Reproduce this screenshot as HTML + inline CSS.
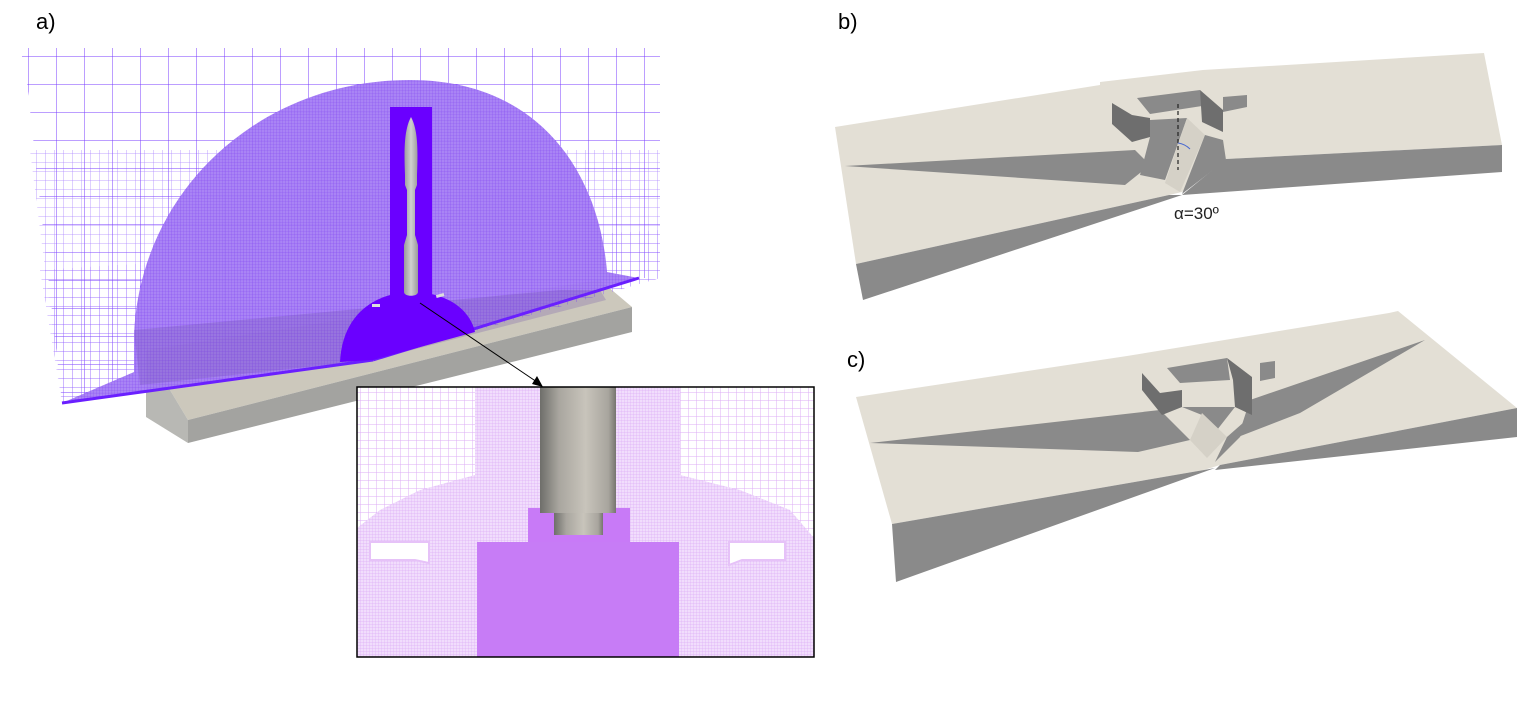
<!DOCTYPE html>
<html><head><meta charset="utf-8"><style>
html,body{margin:0;padding:0;background:#fff;}
svg{display:block;}
text{font-family:"Liberation Sans",sans-serif;}
</style></head><body>
<svg width="1540" height="704" viewBox="0 0 1540 704" xmlns="http://www.w3.org/2000/svg">
<defs>
<pattern id="coarse" width="28" height="28" patternUnits="userSpaceOnUse"><path d="M0 0H28M0 0V28" stroke="#7a3cff" stroke-width="1" fill="none"/></pattern>
<pattern id="mid" width="9" height="9" patternUnits="userSpaceOnUse"><path d="M0 0H9M0 0V9" stroke="#8a55ff" stroke-width="0.8" fill="none"/></pattern>
<pattern id="fine" width="3" height="3" patternUnits="userSpaceOnUse"><rect width="3" height="3" fill="#a47ef4"/><path d="M0 0H3M0 0V3" stroke="#8448f2" stroke-width="0.6" fill="none"/></pattern>
<pattern id="icoarse" width="8" height="8" patternUnits="userSpaceOnUse"><rect width="8" height="8" fill="#fff"/><path d="M0 0H8M0 0V8" stroke="#dcaef5" stroke-width="1" fill="none"/></pattern>
<pattern id="ifine" width="3" height="3" patternUnits="userSpaceOnUse"><rect width="3" height="3" fill="#f1ddfc"/><path d="M0 0H3M0 0V3" stroke="#ddb0f6" stroke-width="0.7" fill="none"/></pattern>
<linearGradient id="stem" x1="0" x2="1"><stop offset="0" stop-color="#6e6e6a"/><stop offset="0.25" stop-color="#a9a69f"/><stop offset="0.6" stop-color="#c8c4bb"/><stop offset="0.9" stop-color="#a8a59e"/><stop offset="1" stop-color="#77756f"/></linearGradient>
<linearGradient id="rk" x1="0" x2="1"><stop offset="0" stop-color="#9a9a9a"/><stop offset="0.5" stop-color="#d0d0d0"/><stop offset="1" stop-color="#9a9a9a"/></linearGradient>
</defs>

<text x="36" y="29" font-size="22">a)</text>
<text x="838" y="29" font-size="22">b)</text>
<text x="847" y="367" font-size="22">c)</text>

<!-- ===== Panel a ===== -->
<polygon points="146,350 600,280 632,307 188,420" fill="#ccc8bc"/>
<polygon points="188,420 632,307 632,332 188,443" fill="#a3a3a0"/>
<polygon points="146,350 188,420 188,443 146,417" fill="#b8b8b4"/>
<polygon points="20,48 660,48 660,278 639,278 373,360 62,403 26,73" fill="url(#coarse)"/>
<polygon points="30,150 660,150 660,278 373,360 62,403" fill="url(#mid)" opacity="0.7"/>
<polygon points="40,270 660,230 660,278 373,360 62,403" fill="url(#mid)" opacity="0.8"/>
<path d="M134,335 C140,190 260,80 410,80 C545,80 600,180 607,272 L639,278 L373,360 L62,403 L134,372 Z" fill="url(#fine)" opacity="0.95"/>
<polygon points="134,330 560,290 600,290 606,300 373,360 140,385" fill="#6a4aa8" opacity="0.25"/>
<line x1="62" y1="403" x2="373" y2="360" stroke="#6a1fff" stroke-width="3"/>
<line x1="373" y1="360" x2="639" y2="278" stroke="#6a1fff" stroke-width="3"/>
<rect x="390" y="107" width="42" height="190" fill="#6a00ff"/>
<path d="M340,362 C342,320 368,294 410,292 C448,292 470,310 475,332 L373,360 Z" fill="#6a00ff"/>
<rect x="372" y="304" width="8" height="3" fill="#ddd"/>
<rect x="436" y="294" width="8" height="3" fill="#ddd" transform="rotate(-15 440 295)"/>
<path d="M411,117 C404,130 404,150 405,175 L405,185 L407,190 L407,235 L404,245 L404,292 C404,297 418,297 418,292 L418,245 L415,235 L415,190 L417,185 L417,175 C418,150 418,130 411,117 Z" fill="url(#rk)"/>
<line x1="420" y1="303" x2="537" y2="382" stroke="#000" stroke-width="1"/>
<polygon points="543,387 532,384 537,376" fill="#000"/>

<rect x="357" y="387" width="457" height="270" fill="url(#icoarse)"/>
<polygon points="357,528 380,510 420,490 475,475 475,387 680,387 680,475 740,490 790,510 814,538 814,657 357,657" fill="url(#ifine)"/>
<rect x="475" y="387" width="205" height="100" fill="url(#ifine)"/>
<rect x="528" y="508" width="102" height="36" fill="#c87af7"/>
<rect x="477" y="542" width="202" height="115" fill="#c77cf6"/>
<rect x="540" y="387" width="76" height="126" fill="url(#stem)"/>
<rect x="554" y="513" width="49" height="22" fill="url(#stem)"/>
<polygon points="370,542 429,542 429,563 415,560 370,560" fill="#fff" stroke="#e6c2f8" stroke-width="2"/>
<polygon points="729,542 785,542 785,560 742,560 729,565" fill="#fff" stroke="#e6c2f8" stroke-width="2"/>
<rect x="357" y="387" width="457" height="270" fill="none" stroke="#000" stroke-width="1.5"/>

<!-- ===== Panel b ===== -->
<polygon points="835,127 1100,85 1100,82 1203,70 1484,53 1502,145 1226,159 1182,192 1169,195 856,264" fill="#e3dfd5"/>
<polygon points="845,166 1135,150 1150,165 1125,185" fill="#8a8a8a"/>
<polygon points="1226,159 1502,145 1502,172 1182,195" fill="#8a8a8a"/>
<polygon points="856,264 1169,195 1182,195 863,300" fill="#8a8a8a"/>
<polygon points="1137,98 1200,90 1202,106 1150,114" fill="#8a8a8a"/>
<polygon points="1112,103 1132,115 1150,118 1150,137 1132,142 1112,124" fill="#6e6e6e"/>
<polygon points="1200,90 1223,110 1223,132 1202,122" fill="#6e6e6e"/>
<polygon points="1223,97 1247,95 1247,107 1223,112" fill="#8a8a8a"/>
<polygon points="1150,120 1187,118 1165,180 1140,175 1150,137" fill="#8a8a8a"/>
<polygon points="1187,118 1205,135 1180,192 1165,183" fill="#d5d1c7"/>
<polygon points="1205,135 1223,140 1226,160 1182,194" fill="#8a8a8a"/>
<line x1="1178" y1="104" x2="1178" y2="170" stroke="#222" stroke-width="1.2" stroke-dasharray="4,3"/>
<path d="M1178,143 Q1185,144 1190,149" stroke="#4a6ad0" fill="none" stroke-width="1"/>
<text x="1174" y="219" font-size="17" fill="#222">α=30º</text>

<!-- ===== Panel c ===== -->
<polygon points="856,397 1127,356 1389,313 1398,311 1517,408 1220,465 1204,470 892,524" fill="#e3dfd5"/>
<polygon points="870,443 1160,410 1190,440 1138,452" fill="#8a8a8a"/>
<polygon points="1250,400 1425,340 1300,413 1238,437" fill="#8a8a8a"/>
<polygon points="1517,408 1517,437 1215,470 1220,465" fill="#8a8a8a"/>
<polygon points="892,524 1204,470 1215,468 896,582" fill="#8a8a8a"/>
<polygon points="1167,368 1227,358 1230,380 1180,383" fill="#8a8a8a"/>
<polygon points="1142,373 1160,393 1182,390 1182,407 1162,415 1142,390" fill="#6e6e6e"/>
<polygon points="1227,358 1252,377 1252,415 1235,407 1233,380" fill="#6e6e6e"/>
<polygon points="1260,363 1275,361 1275,378 1260,381" fill="#8a8a8a"/>
<polygon points="1182,407 1235,407 1217,430 1202,415" fill="#8a8a8a"/>
<polygon points="1202,413 1227,437 1207,458 1190,440" fill="#d5d1c7"/>
<polygon points="1227,437 1252,415 1240,437 1215,462" fill="#8a8a8a"/>
</svg>
</body></html>
